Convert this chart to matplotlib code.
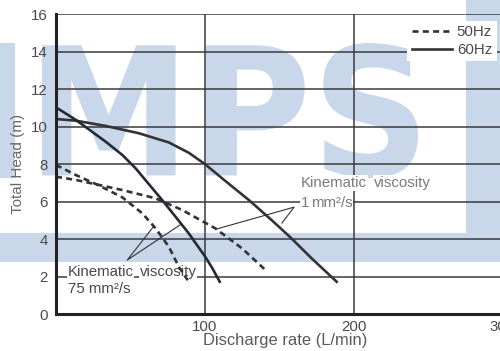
import matplotlib
matplotlib.use("Agg")
import matplotlib.pyplot as plt
from matplotlib.textpath import TextPath
from matplotlib.patches import PathPatch, Rectangle
from matplotlib.font_manager import FontProperties
from matplotlib.transforms import Affine2D

# pump curves (x: L/min, y: m)
q60_1 = [0, 13.4, 33.4, 55.7, 75.8, 89.2, 100, 113.7, 130, 145, 158, 172, 188.6]
h60_1 = [10.4, 10.31, 10.03, 9.64, 9.15, 8.6, 8.0, 7.1, 6.05, 5.0, 4.05, 2.95, 1.72]

q60_75 = [0, 13.4, 33.4, 44.6, 53.5, 71.3, 80, 89.2, 100.3, 105, 110]
h60_75 = [11.02, 10.35, 9.19, 8.48, 7.77, 6.08, 5.22, 4.3, 3.05, 2.45, 1.72]

q50_1 = [0, 13.4, 29, 44.6, 66.9, 84.7, 107, 125, 140]
h50_1 = [7.32, 7.15, 6.88, 6.61, 6.17, 5.55, 4.57, 3.5, 2.4]

q50_75 = [0, 13.4, 29, 44.6, 58, 66.9, 75.8, 82.5, 88.5]
h50_75 = [7.95, 7.41, 6.85, 6.22, 5.37, 4.57, 3.59, 2.52, 1.8]

xticks = [100, 200, 300]
yticks = list(range(0, 17, 2))

plt.rcParams['font.family'] = ['Liberation Sans', 'DejaVu Sans']

fig = plt.figure(figsize=(5.0, 3.51), dpi=100)

# watermark
wm = '#c8d7ea'
tp = TextPath((0, 0), "MPS", size=1, prop=FontProperties(family="DejaVu Sans", weight="bold"))
bb = tp.get_extents()
x0, x1 = 42 / 500, 418 / 500
y0, y1 = 1 - 178 / 351, 1 - 43 / 351
tr = Affine2D().translate(-bb.x0, -bb.y0).scale((x1 - x0) / bb.width, (y1 - y0) / bb.height).translate(x0, y0) + fig.transFigure
fig.patches.append(PathPatch(tp, transform=tr, fc=wm, ec='none', zorder=-2))
fig.patches.append(Rectangle((0, 1 - 262 / 351), 1, 29 / 351, transform=fig.transFigure, fc=wm, ec='none', zorder=-2))
fig.patches.append(Rectangle((466 / 500, 1 - 262 / 351), 34 / 500, 262 / 351, transform=fig.transFigure, fc=wm, ec='none', zorder=-2))
fig.patches.append(Rectangle((0, 1 - 178 / 351), 15 / 500, 135 / 351, transform=fig.transFigure, fc=wm, ec='none', zorder=-2))

ax = fig.add_axes([0.112, 0.1054, 0.893, 0.8547])
ax.set_facecolor('none')

dash = (2.3, 1.6)
ax.plot(q50_1, h50_1, color='#333333', lw=1.9, dashes=dash, label='50Hz', zorder=4)
ax.plot(q50_75, h50_75, color='#333333', lw=1.9, dashes=dash, zorder=4)
ax.plot(q60_1, h60_1, color='#333333', lw=1.9, label='60Hz', zorder=4)
ax.plot(q60_75, h60_75, color='#222a36', lw=1.9, zorder=4)

ax.set_xlim(0, 300)
ax.set_ylim(0, 16)
ax.set_xticks(xticks)
ax.set_yticks(yticks)
ax.grid(True, color='#3a3a3a', lw=1.1, zorder=1)
ax.set_axisbelow(True)
ax.tick_params(length=0, labelsize=10.8, labelcolor='#4a4a4a')
ax.tick_params(axis='y', pad=6)
ax.tick_params(axis='x', pad=4)
for s in ['top', 'right']:
    ax.spines[s].set_visible(False)
for s in ['left', 'bottom']:
    ax.spines[s].set_linewidth(2.2)
    ax.spines[s].set_color('#222222')
    ax.spines[s].set_zorder(5)

ax.set_xlabel('Discharge rate (L/min)', fontsize=11.9, color='#5a5a5a')
ax.xaxis.set_label_coords(0.513, -0.062)
ax.set_ylabel('Total Head (m)', fontsize=11, color='#6a6a6a', labelpad=4)

# annotations
box = dict(fc='white', ec='none', pad=0.5)
up = '#7a7a7a'
lo = '#484848'
ax.text(164.5, 7.0, 'Kinematic', color=up, fontsize=10.8, va='center', bbox=box, zorder=3)
ax.text(213.4, 7.0, 'viscosity', color=up, fontsize=10.8, va='center', bbox=box, zorder=3)
ax.text(164.5, 5.9, '1', color=up, fontsize=10.8, va='center', bbox=box, zorder=3)
ax.text(171.2, 5.9, 'mm²/s', color=up, fontsize=10.8, va='center', bbox=box, zorder=3)
ax.plot([107.7, 160, 151.8], [4.53, 5.7, 4.85], color='#333333', lw=0.8, zorder=3)

ax.text(7.8, 2.26, 'Kinematic', color=lo, fontsize=10.8, va='center', bbox=box, zorder=3)
ax.text(56.2, 2.26, 'viscosity', color=lo, fontsize=10.8, va='center', bbox=box, zorder=3)
ax.text(7.8, 1.33, '75 mm²/s', color=lo, fontsize=10.8, va='center', zorder=3)
ax.plot([65.8, 47.9, 84.3], [4.69, 2.88, 4.8], color='#333333', lw=0.8, zorder=3)

leg = ax.legend(loc='upper right', bbox_to_anchor=(0.993, 1 - 20.5 / 351), bbox_transform=fig.transFigure,
                fontsize=10.8, frameon=True, fancybox=False, framealpha=1, edgecolor='none',
                handlelength=2.7, handletextpad=0.3, labelspacing=0.25, borderpad=0.3, borderaxespad=0)
for t in leg.get_texts():
    t.set_color('#4a4a4a')
leg.set_zorder(6)

fig.savefig('out.png', dpi=100)
